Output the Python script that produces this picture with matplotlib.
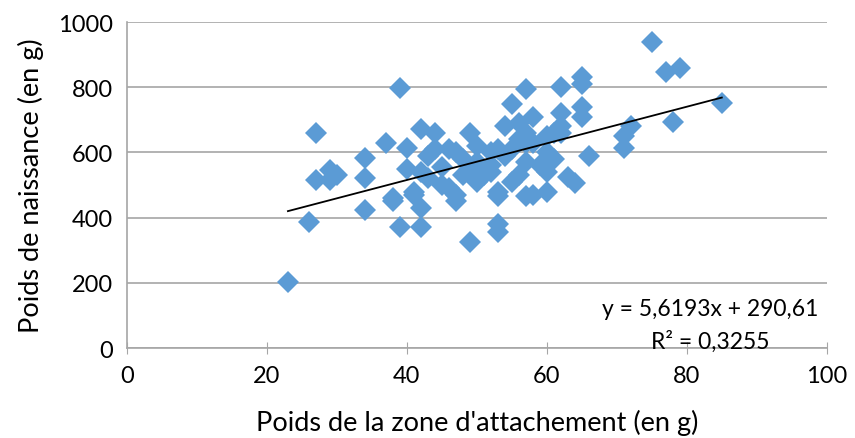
import matplotlib
matplotlib.use("Agg")
import matplotlib.pyplot as plt

# Poids de la zone d'attachement (g) / Poids de naissance (g)
poids_zone = [23, 26, 27, 27, 29, 29, 30, 34, 34, 34, 37, 38, 38, 39, 39, 40, 40,
              41, 41, 42, 42, 42, 42, 43, 43, 44, 44, 45, 45, 46, 46, 47, 47, 47,
              48, 48, 49, 49, 49, 50, 50, 50, 51, 52, 52, 52, 53, 53, 53, 53, 53,
              54, 54, 55, 55, 55, 56, 56, 56, 57, 57, 57, 57, 57, 58, 58, 58, 59,
              60, 60, 60, 60, 61, 61, 62, 62, 62, 62, 63, 64, 65, 65, 65, 65, 66,
              71, 71, 72, 75, 77, 78, 79, 85]
poids_naissance = [203, 388, 660, 515, 545, 515, 530, 582, 520, 422, 628, 460, 450,
                   797, 372, 612, 550, 480, 470, 672, 540, 430, 370, 590, 520, 660,
                   610, 500, 555, 610, 490, 470, 600, 450, 580, 530, 660, 325, 540,
                   620, 570, 510, 530, 600, 560, 540, 610, 480, 465, 380, 355, 680,
                   590, 750, 610, 510, 690, 640, 530, 795, 660, 630, 570, 465, 710,
                   630, 470, 560, 650, 600, 540, 480, 660, 580, 800, 720, 680, 660,
                   525, 505, 830, 810, 740, 710, 590, 650, 615, 680, 940, 848, 692,
                   860, 752]

# courbe de tendance (Excel)
pente = 5.6193
ordonnee = 290.61
r2 = 0.3255

plt.rcParams['font.family'] = ['Lato', 'DejaVu Sans']

fig = plt.figure(figsize=(8.55, 4.39), dpi=100)
ax = fig.add_axes([0.1485, 0.205, 0.8185, 0.7426])

ax.plot(poids_zone, poids_naissance, linestyle='none', marker='D',
        markersize=11, color='#5B9BD5', markeredgewidth=0, zorder=3)

x0, x1 = min(poids_zone), max(poids_zone)
ax.plot([x0, x1], [pente * x0 + ordonnee, pente * x1 + ordonnee],
        color='black', linewidth=1.3, zorder=4)

ax.text(83.4, 120, "y = 5,6193x + 290,61", ha='center', va='center', fontsize=16.5)
ax.text(83.4, 21, "R² = 0,3255", ha='center', va='center', fontsize=16.5)

ax.set_xlim(0, 100)
ax.set_ylim(0, 1000)
ax.set_xticks(range(0, 101, 20))
ax.set_yticks(range(0, 1001, 200))
ax.yaxis.grid(True, color='#A6A6A6', linewidth=1.2)
ax.set_axisbelow(True)
for s in ['top', 'right']:
    ax.spines[s].set_visible(False)
for s in ['left', 'bottom']:
    ax.spines[s].set_color('#A6A6A6')
    ax.spines[s].set_linewidth(1.2)
ax.tick_params(axis='y', length=0, labelsize=17, pad=10)
ax.tick_params(axis='x', direction='inout', length=9, color='#A6A6A6',
               labelsize=17, pad=8)

ax.set_xlabel("Poids de la zone d'attachement (en g)", fontsize=19.5, labelpad=16)
ax.set_ylabel("Poids de naissance (en g)", fontsize=19.5, labelpad=10)

fig.savefig("out.png", dpi=100)
